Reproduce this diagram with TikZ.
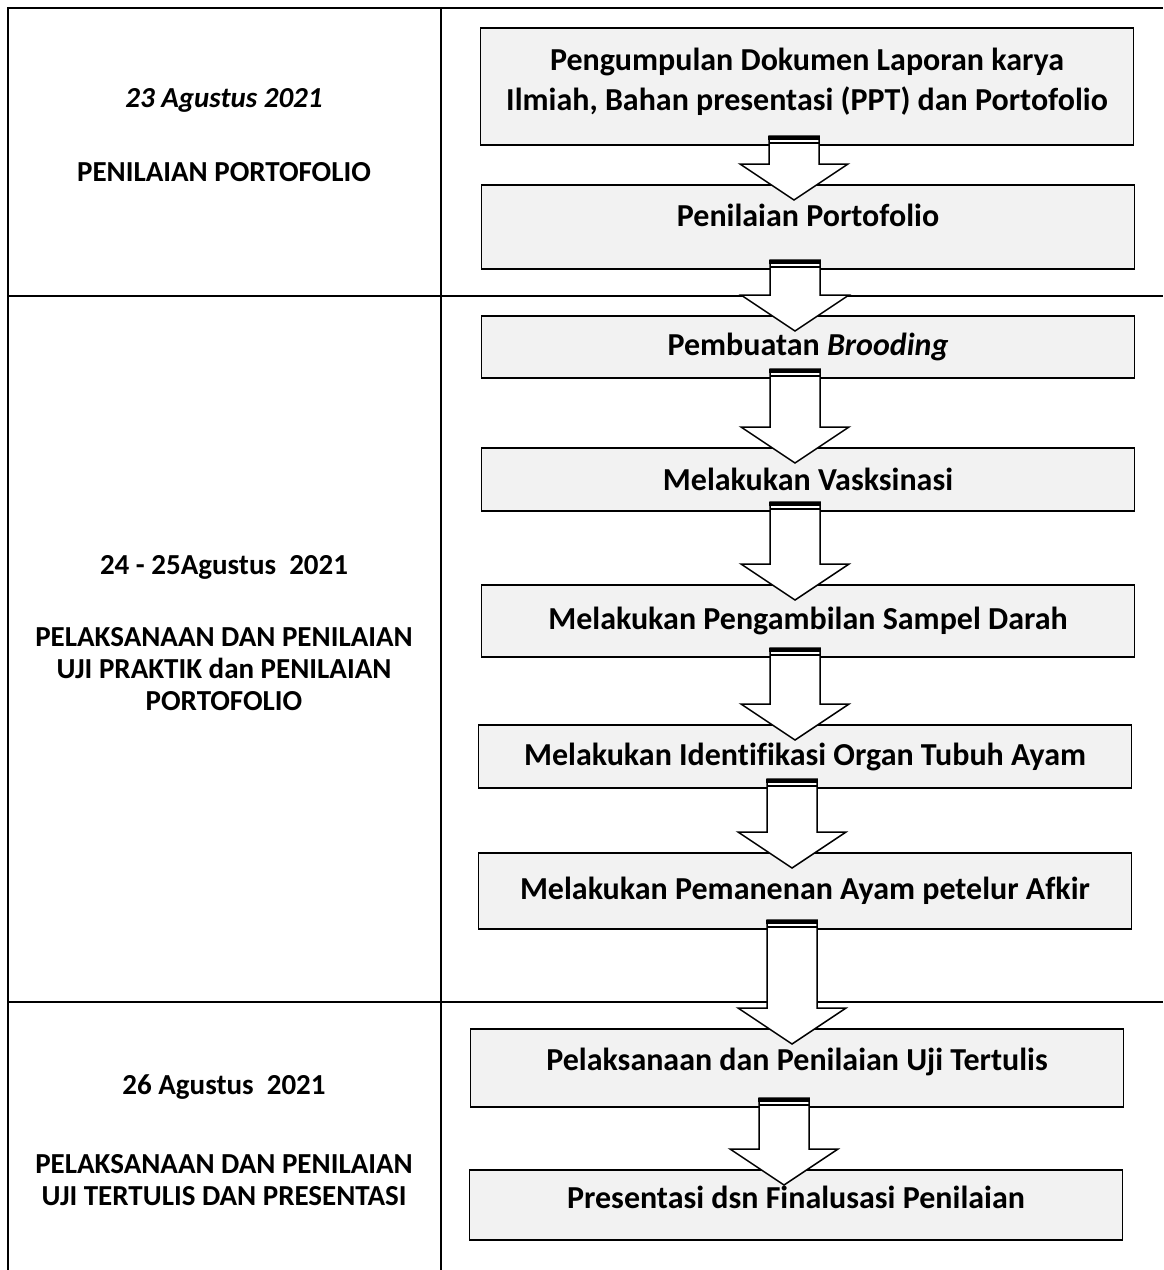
\documentclass[tikz,border=0pt]{standalone}
\usepackage{fontspec}
\setmainfont{Carlito}[Ligatures=CommonOff]
\usepackage{tikz}
\usetikzlibrary{shapes, arrows, positioning, calc}

\definecolor{boxgray}{HTML}{F2F2F2}

\begin{document}
\begin{tikzpicture}[
  x=1pt, y=1pt,
  node distance=40pt and 20pt,
  every node/.style={font=\fontsize{29}{32}\selectfont\bfseries},
  stepbox/.style={rectangle, draw, fill=boxgray, line width=1.3pt, minimum width=653pt, align=center, inner sep=0pt, outer sep=0pt, font=\fontsize{32}{40}\selectfont\bfseries},
  coltext/.style={align=center},
  tblline/.style={line width=2.6pt},
  blockarr/.style={draw, fill=white, line width=1.5pt, line join=miter}
]
\useasboundingbox (0,0) rectangle (1163,-1270);

% Table
\draw[tblline] (8,-1270) -- (8,-8) -- (1163,-8);
\draw[tblline] (441,-8) -- (441,-1270);
\draw[tblline] (8,-296) -- (1163,-296);
\draw[tblline] (8,-1002) -- (1163,-1002);

% Left column
\node[coltext] (tgl1) at (224,-100) {\itshape 23 Agustus 2021};
\node[coltext] (ket1) at (224,-172) {PENILAIAN PORTOFOLIO};
\node[coltext] (tgl2) at (224,-567) {24 - 25Agustus\ \ 2021};
\node[coltext] (ket2) at (224,-669) {PELAKSANAAN DAN PENILAIAN\\UJI PRAKTIK dan PENILAIAN\\PORTOFOLIO};
\node[coltext] (tgl3) at (224,-1087) {26 Agustus\ \ 2021};
\node[coltext] (ket3) at (224,-1180) {PELAKSANAAN DAN PENILAIAN\\UJI TERTULIS DAN PRESENTASI};

% Main Flow
\node[stepbox, minimum height=117pt, text depth=14pt] (b1) at (807,-86.5) {Pengumpulan Dokumen Laporan karya\\Ilmiah, Bahan presentasi (PPT) dan Portofolio};
\node[stepbox, minimum height=84pt, text depth=24pt, below=40pt of b1, xshift=1pt] (b2) {Penilaian Portofolio};
\node[stepbox, minimum height=62pt, below=47pt of b2] (b3) {Pembuatan \textit{Brooding}};
\node[stepbox, minimum height=63pt, below=70pt of b3] (b4) {Melakukan Vasksinasi};
\node[stepbox, minimum height=72pt, below=74pt of b4] (b5) {Melakukan Pengambilan Sampel Darah};
\node[stepbox, minimum height=63pt, below=68pt of b5, xshift=-3pt] (b6) {Melakukan Identifikasi Organ Tubuh Ayam};
\node[stepbox, minimum height=76pt, below=65pt of b6] (b7) {Melakukan Pemanenan Ayam petelur Afkir};
\node[stepbox, minimum height=78pt, text depth=18pt, below=100pt of b7, xshift=-8pt] (b8) {Pelaksanaan dan Penilaian Uji Tertulis};
\node[stepbox, minimum height=70pt, text depth=16pt, below=63pt of b8, xshift=-1pt] (b9) {Presentasi dsn Finalusasi Penilaian};

% Connections
\foreach \a/\b in {b1/b2, b2/b3, b3/b4, b4/b5, b5/b6, b6/b7, b7/b8, b8/b9} {
  \path (\a.south) ++(-13pt,9pt) coordinate (T) (\b.north) ++(0,-15pt) coordinate (H);
  \draw[blockarr] ($(T)+(-25pt,0)$) -- ($(T)+(25pt,0)$) -- ($(T|-H)+(25pt,36pt)$) -- ($(T|-H)+(54pt,36pt)$)
    -- (T|-H) -- ($(T|-H)+(-54pt,36pt)$) -- ($(T|-H)+(-25pt,36pt)$) -- cycle;
  \draw[line width=4pt] ($(T)+(-25.75pt,-2pt)$) -- ($(T)+(25.75pt,-2pt)$);
  \draw[line width=1.2pt] ($(T)+(-25pt,-7pt)$) -- ($(T)+(25pt,-7pt)$);
}

\end{tikzpicture}
\end{document}
